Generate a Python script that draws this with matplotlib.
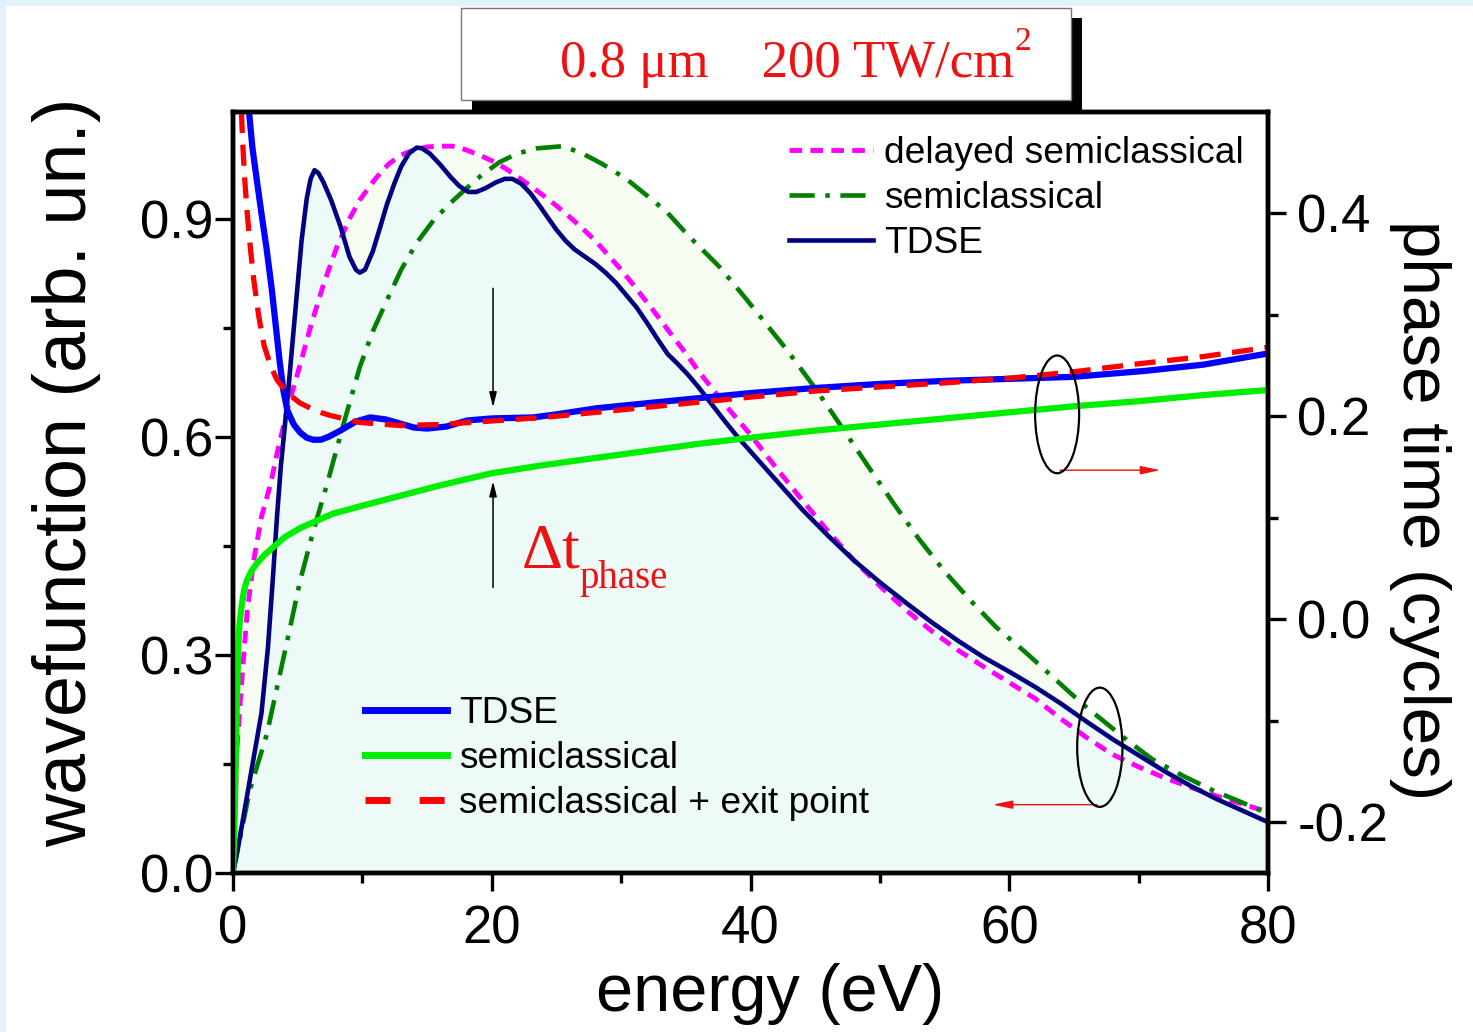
import matplotlib
matplotlib.use("Agg")
import matplotlib.pyplot as plt
import numpy as np
from matplotlib.patches import Ellipse, Rectangle

# wavefunction (left axis)
e_tdse = [0, 0.4, 1.3, 2.2, 2.7, 3.1, 3.4, 3.7, 4.2, 4.6, 5.0, 5.3, 5.7, 6.0, 6.3, 6.6, 7.0,
          7.6, 8.3, 9.0, 9.5, 9.8, 10.2, 10.8, 11.4, 11.9, 12.5, 13.0, 13.6, 14.2, 14.6, 15.2,
          16.0, 16.8, 17.5, 18.2, 18.8, 19.5, 20.3, 21.0, 21.6, 22.3, 23.0, 23.7, 24.4, 25.0,
          25.7, 26.4, 27.2, 28.0, 28.8, 29.6, 30.4, 31.2, 32.0, 32.8, 33.6, 34.4, 35.2, 36,
          37, 38, 39, 40, 42, 44, 46, 48, 50, 52, 54, 56, 58, 60, 62, 64, 66, 68, 70, 72, 74,
          76, 78, 80]
wf_tdse = [0, 0.036, 0.128, 0.22, 0.31, 0.41, 0.49, 0.56, 0.65, 0.73, 0.81, 0.87, 0.928, 0.955,
           0.967, 0.963, 0.95, 0.925, 0.89, 0.848, 0.83, 0.826, 0.83, 0.855, 0.89, 0.92, 0.95,
           0.972, 0.99, 0.998, 0.997, 0.99, 0.975, 0.958, 0.945, 0.937, 0.937, 0.942, 0.95,
           0.955, 0.955, 0.948, 0.935, 0.918, 0.9, 0.885, 0.87, 0.858, 0.848, 0.838, 0.826,
           0.812, 0.795, 0.778, 0.757, 0.735, 0.714, 0.7, 0.685, 0.668, 0.645, 0.622, 0.6,
           0.58, 0.54, 0.5, 0.464, 0.43, 0.4, 0.372, 0.345, 0.32, 0.297, 0.277, 0.256, 0.233,
           0.208, 0.184, 0.162, 0.14, 0.12, 0.102, 0.086, 0.07]

e_delay = [0, 0.15, 0.3, 0.7, 1.1, 1.6, 2.2, 2.9, 3.5, 4.3, 5.2, 6.0, 7.0, 8.0, 9.0, 9.8, 11,
           12, 13, 14, 15, 16, 17, 18, 19, 20, 21, 22, 23, 24, 25, 26, 27, 28, 29, 30, 31, 32,
           33, 34, 35, 36, 38, 40, 42, 44, 46, 48, 50, 52, 54, 56, 58, 60, 62, 64, 66, 68, 70,
           72, 74, 76, 78, 80]
wf_delay = [0, 0.08, 0.17, 0.27, 0.36, 0.43, 0.49, 0.535, 0.585, 0.645, 0.70, 0.752, 0.81,
            0.86, 0.9, 0.926, 0.955, 0.975, 0.988, 0.995, 0.999, 1.0, 1.0, 0.995, 0.988, 0.98,
            0.97, 0.958, 0.945, 0.932, 0.918, 0.903, 0.887, 0.87, 0.85, 0.83, 0.808, 0.785,
            0.762, 0.738, 0.715, 0.69, 0.645, 0.603, 0.557, 0.513, 0.47, 0.43, 0.395, 0.362,
            0.333, 0.307, 0.284, 0.262, 0.24, 0.212, 0.186, 0.163, 0.146, 0.131, 0.118, 0.106,
            0.095, 0.084]

e_semi = [0, 1.3, 2.6, 3.4, 4.2, 5.2, 6.2, 7.3, 8.5, 9.8, 10.8, 11.9, 13, 14.2, 15.5, 16.7,
          17.8, 19.2, 20.6, 22, 23.5, 25.5, 27, 28.5, 30.4, 32, 33.5, 35.3, 37.6, 39.7, 41,
          42.8, 45, 47, 49, 51, 53, 55, 57, 59, 61.3, 63.9, 65.7, 67.5, 69.3, 71.1, 73.4, 75.7,
          78, 80]
wf_semi = [0, 0.114, 0.19, 0.255, 0.32, 0.403, 0.47, 0.537, 0.615, 0.696, 0.745, 0.788, 0.83,
           0.867, 0.898, 0.92, 0.938, 0.96, 0.978, 0.99, 0.997, 1.0, 0.99, 0.976, 0.955, 0.932,
           0.91, 0.875, 0.834, 0.789, 0.76, 0.72, 0.667, 0.615, 0.562, 0.51, 0.46, 0.415,
           0.375, 0.338, 0.303, 0.261, 0.232, 0.206, 0.18, 0.156, 0.134, 0.114, 0.097, 0.082]

# phase time (right axis)
e_ph_tdse = [1.0, 1.24, 1.5, 1.85, 2.2, 2.6, 3.0, 3.3, 3.6, 3.9, 4.2, 4.7, 5.2, 5.7, 6.2, 6.8,
             7.4, 8.3, 9.5, 10.6, 11.8, 12.9, 14, 15.0, 16.5, 18.1, 20, 23.2, 25, 28.1, 32,
             36, 40, 45, 50, 55, 60, 65, 70.6, 75, 80]
ph_tdse = [0.53, 0.5, 0.465, 0.432, 0.4, 0.365, 0.325, 0.29, 0.255, 0.225, 0.206, 0.192, 0.184,
           0.179, 0.177, 0.177, 0.18, 0.186, 0.195, 0.199, 0.197, 0.193, 0.189, 0.188, 0.19,
           0.196, 0.198, 0.199, 0.202, 0.208, 0.213, 0.218, 0.223, 0.228, 0.232, 0.235,
           0.237, 0.239, 0.245, 0.251, 0.262]

e_ph_exit = [0.65, 0.75, 0.9, 1.1, 1.35, 1.6, 2.0, 2.4, 2.9, 3.4, 4.2, 5.2, 6.5, 7.5, 9.8,
             12.9, 16, 20.6, 24, 28.1, 32, 36, 40, 45, 50, 55, 60.3, 65, 70.1, 75, 80]
ph_exit = [0.5, 0.47, 0.435, 0.40, 0.365, 0.335, 0.298, 0.27, 0.25, 0.236, 0.223, 0.213, 0.205,
           0.201, 0.194, 0.191, 0.192, 0.196, 0.199, 0.204, 0.209, 0.214, 0.219, 0.225, 0.229,
           0.233, 0.238, 0.244, 0.252, 0.259, 0.268]

e_ph_semi = [0, 0.1, 0.15, 0.22, 0.28, 0.35, 0.41, 0.5, 0.67, 0.85, 1.06, 1.4, 1.83, 2.4, 3.1,
             4, 5.2, 7.7, 10, 13, 16, 18, 20, 24, 28, 32, 36, 40, 45, 50, 55, 60, 65, 70, 75,
             80]
ph_semi = [-0.25, -0.21, -0.18, -0.13, -0.093, -0.055, -0.027, -0.005, 0.014, 0.028, 0.038,
           0.047, 0.055, 0.063, 0.071, 0.081, 0.09, 0.104, 0.112, 0.122, 0.132, 0.138, 0.144,
           0.152, 0.159, 0.166, 0.173, 0.179, 0.186, 0.192, 0.198, 0.204, 0.21, 0.215, 0.221,
           0.226]

SANS = "Liberation Sans"
SERIF = "Liberation Serif"
plt.rcParams["font.family"] = SANS

fig = plt.figure(figsize=(14.73, 10.32), dpi=100)
fig.patch.set_facecolor("white")
fig.patches.append(Rectangle((0, 1 - 6 / 1032), 1, 6 / 1032, transform=fig.transFigure,
                             facecolor="#e1f2fd", edgecolor="none"))
fig.patches.append(Rectangle((0, 0), 6 / 1473, 1, transform=fig.transFigure,
                             facecolor="#e1f2fd", edgecolor="none"))

ax = fig.add_axes([233 / 1473, 1 - 873 / 1032, 1035 / 1473, 761 / 1032])
ax2 = ax.twinx()

# shaded areas
grid = np.linspace(0, 80, 801)
upper = np.maximum(np.interp(grid, e_semi, wf_semi), np.interp(grid, e_delay, wf_delay))
lower = np.interp(grid, e_tdse, wf_tdse)
ax.fill_between(grid, 0, upper, color="#f6fcf1", lw=0, zorder=0)
ax.fill_between(grid, 0, lower, color="#eefaf7", lw=0, zorder=0.5)

l_delay, = ax.plot(e_delay, wf_delay, color="#ff00ff", lw=3.5, dashes=(2.6, 1.7))
l_semi, = ax.plot(e_semi, wf_semi, color="#007f00", lw=3.3, dashes=(5.5, 2.3, 1.0, 2.3))
l_tdse, = ax.plot(e_tdse, wf_tdse, color="#000080", lw=3.3)

p_tdse, = ax2.plot(e_ph_tdse, ph_tdse, color="#0000ff", lw=4.5)
p_semi, = ax2.plot(e_ph_semi, ph_semi, color="#00ee00", lw=4.5)
p_exit, = ax2.plot(e_ph_exit, ph_exit, color="#ff0000", lw=3.8, dashes=(4.0, 2.2))

ax.set_xlim(0, 80)
ax.set_ylim(0, 1.047)
ax2.set_ylim(-0.25, 0.5)

ax.set_xticks([0, 20, 40, 60, 80])
ax.set_xticks([10, 30, 50, 70], minor=True)
ax.set_yticks([0, 0.3, 0.6, 0.9])
ax.set_yticklabels(["0.0", "0.3", "0.6", "0.9"])
ax.set_yticks([0.15, 0.45, 0.75], minor=True)
ax2.set_yticks([-0.2, 0.0, 0.2, 0.4])
ax2.set_yticklabels(["-0.2", "0.0", "0.2", "0.4"])
ax2.set_yticks([-0.1, 0.1, 0.3], minor=True)

for a in (ax, ax2):
    for s in a.spines.values():
        s.set_linewidth(3.2)
ax.tick_params(axis="both", which="major", direction="out", length=13, width=2.4,
               labelsize=38)
ax.tick_params(axis="both", which="minor", direction="out", length=7, width=2.4)
ax.tick_params(axis="x", which="major", pad=10)
ax.tick_params(axis="y", which="major", pad=1)
ax2.tick_params(axis="y", which="major", direction="out", length=13, width=2.4,
                labelsize=38, pad=8)
ax2.tick_params(axis="y", which="minor", direction="out", length=7, width=2.4)

ax.set_xlabel("energy (eV)", fontsize=48)
ax.xaxis.set_label_coords(0.519, -0.118)
ax.set_ylabel("wavefunction (arb. un.)", fontsize=53)
ax.yaxis.set_label_coords(-0.127, 0.527)
ax2.set_ylabel("phase time (cycles)", fontsize=48.5, rotation=-90, va="center")
ax2.yaxis.set_label_coords(1.147, 0.477)

# legends
leg1 = ax.legend([l_delay, l_semi, l_tdse],
                 ["delayed semiclassical", "semiclassical", "TDSE"],
                 loc="upper left", bbox_to_anchor=(0.516, 0.998), frameon=False,
                 fontsize=26.7, handlelength=2.25, handletextpad=0.3, labelspacing=0.27,
                 borderaxespad=0.2)
leg2 = ax2.legend([p_tdse, p_semi, p_exit],
                  ["TDSE", "semiclassical", "semiclassical + exit point"],
                  loc="upper left", bbox_to_anchor=(0.106, 0.262), frameon=False,
                  fontsize=26.7, handlelength=2.2, handletextpad=0.33, labelspacing=0.27,
                  borderaxespad=0.2)
for h in leg2.get_lines():
    h.set_linewidth(5)
leg2.get_lines()[2].set_dashes((3.6, 4.2))

# delta t annotation
ax2.annotate("", xy=(20.1, 0.206), xytext=(20.1, 0.329),
             arrowprops=dict(arrowstyle="-|>,head_length=0.9,head_width=0.22",
                             color="black", lw=1.1))
ax2.annotate("", xy=(20.1, 0.139), xytext=(20.1, 0.0286),
             arrowprops=dict(arrowstyle="-|>,head_length=0.9,head_width=0.22",
                             color="black", lw=1.1))
ax2.text(22.3, 0.051, "\u0394t", color="#ee1111", fontsize=46, family=SERIF,
         ha="left", va="baseline")
ax2.text(26.8, 0.031, "phase", color="#ee1111", fontsize=28, family=SERIF,
         ha="left", va="baseline")

# ellipses with direction arrows
ax2.add_patch(Ellipse((63.7, 0.202), 3.4, 0.116, fill=False, ec="black", lw=1.6, zorder=5))
ax2.annotate("", xy=(71.9, 0.147), xytext=(63.7, 0.147),
             arrowprops=dict(arrowstyle="-|>,head_length=1.2,head_width=0.25",
                             color="#ee1111", lw=1.0))
ax.add_patch(Ellipse((67.0, 0.173), 3.5, 0.164, fill=False, ec="black", lw=1.6, zorder=5))
ax.annotate("", xy=(58.5, 0.094), xytext=(67.0, 0.094),
            arrowprops=dict(arrowstyle="-|>,head_length=1.2,head_width=0.25",
                            color="#ee1111", lw=1.0))

# title box with shadow
fig.patches.append(Rectangle((472 / 1473, 1 - 110 / 1032), 610 / 1473, 92 / 1032,
                             transform=fig.transFigure, facecolor="black",
                             edgecolor="none", zorder=1))
fig.patches.append(Rectangle((461 / 1473, 1 - 100 / 1032), 610 / 1473, 92 / 1032,
                             transform=fig.transFigure, facecolor="white",
                             edgecolor="#777777", lw=1, zorder=2))
fig.text(560 / 1473, 1 - 77 / 1032, "0.8 \u03bcm    200 TW/cm", color="#ee1111",
         fontsize=38, family=SERIF, ha="left", va="baseline", zorder=3)
fig.text(1015 / 1473, 1 - 50 / 1032, "2", color="#ee1111", fontsize=24, family=SERIF,
         ha="left", va="baseline", zorder=3)

fig.savefig("out.png", dpi=100)
